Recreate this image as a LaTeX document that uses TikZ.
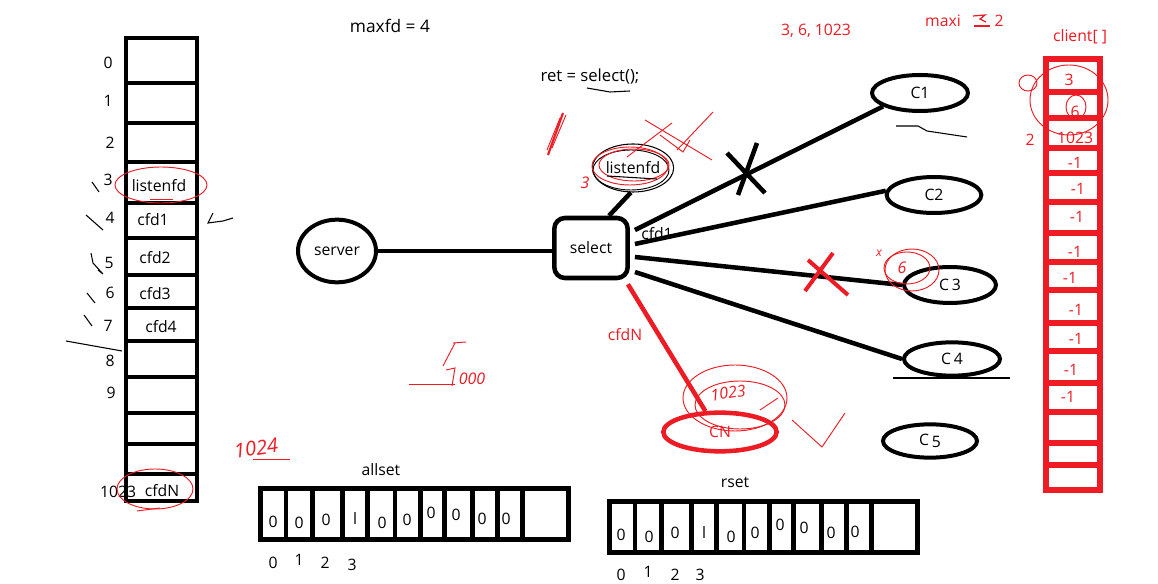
\documentclass[tikz,border=0pt]{standalone}
\usepackage{fontspec}
\setmainfont{Open Sans}
\usetikzlibrary{shapes.geometric,calc}
\definecolor{hred}{RGB}{237,28,36}
\begin{document}
\begin{tikzpicture}[x=0.75pt,y=-0.75pt,
  arr/.style={line width=3.7pt, draw=black},
  rarr/.style={line width=3.9pt, draw=hred},
  thk/.style={line width=3.4pt, draw=black},
  lbl/.style={font=\fontsize{11.8}{13}\selectfont, inner sep=0pt},
  rlbl/.style={lbl, text=hred},
  hlbl/.style={font=\itshape\fontsize{12}{13}\selectfont, text=hred, inner sep=0pt},
  ell/.style={ellipse, draw, line width=3pt, inner sep=0pt, font=\fontsize{11.8}{13}\selectfont},
  hand/.style={draw=hred, line width=0.7pt},
  tick/.style={draw=black, line width=0.8pt},
]
\useasboundingbox (0,0) rectangle (1158,584);
\fill[white] (0,0) rectangle (1158,584);

% ---------- left fd array ----------
\foreach \a/\b in {38/83,83/123,123/162,162/203,203/238,238/275,275/308,308/341,341/377,377/413,413/444,444/474,474/501}
  \draw[arr] (126,\a) rectangle (197,\b);
\foreach \x/\y/\t [count=\i] in {108/63/0,108/101/1,110/143/2,108/180/3,110/218/4,109/263/5,110/293/6,108/326/7,110/361/8,111/393/9}
  \node[lbl] (idx\i) at (\x,\y) {\t};
\node[lbl] (idxN) at (118,492) {1023};
\node[lbl] (Llisten) at (159,186) {listenfd};
\node[lbl] (Lc1) at (153,220) {cfd1};
\node[lbl] (Lc2) at (155,258) {cfd2};
\node[lbl] (Lc3) at (155,294) {cfd3};
\node[lbl] (Lc4) at (161,327) {cfd4};
\node[lbl] (LcN) at (162,491) {cfdN};
% hand ticks
\draw[tick] (92,182) -- (99,192);
\draw[tick] (86,215) -- (103,230);
\draw[tick] (91,253) -- (93,263) -- (102,273);
\draw[tick] (87,293) -- (95,303);
\draw[tick] (84,315) -- (92,326);
\draw[tick] (66,341) -- (122,351);
\draw[tick] (98,270) -- (103,274);
\draw[tick] (213,213) -- (208,223) -- (223,221) -- (233,218);
% red circles on left array
\draw[hand] (161,185) ellipse [x radius=46, y radius=18];
\draw[hand] (150,199) -- (173,199);
\draw[hand] (155,489) ellipse [x radius=38, y radius=20];
\draw[hand] (137,511) -- (160,508);

% ---------- top texts ----------
\node[lbl, font=\fontsize{13}{14}\selectfont] (maxfd) at (390,26) {maxfd = 4};
\node[lbl, font=\fontsize{12.5}{14}\selectfont] (ret) at (590,76) {ret = select();};
\draw[tick] (587,88) -- (610,92) -- (630,91);
\node[rlbl] (lst) at (816,31) {3, 6, 1023};
\node[rlbl] (maxi) at (943,21) {maxi};
\node[rlbl] (two) at (999,21) {2};
\draw[hand, line width=0.9pt] (973,16) -- (985,15) -- (980,19) -- (986,22);
\draw[hand, line width=0.9pt] (974,26) -- (990,26);
\node[rlbl] (clientlbl) at (1080,37) {client[ ]};

% ---------- server / select ----------
\node[ell, minimum width=58.5pt, minimum height=47pt] (server) at (337,251) {server};
\node[draw, thk, rounded corners=8pt, minimum width=55pt, minimum height=45pt, lbl] (select) at (591,248) {select};
\draw[thk] (server.east) -- (select.west |- server.east);

\node[ellipse, draw, line width=0.8pt, minimum width=61pt, minimum height=36pt, inner sep=0pt, lbl] (lf) at (633,168) {listenfd};
\draw[line width=0.7pt] (631,170) ellipse [x radius=38, y radius=20];
\draw[hand] (630,166) ellipse [x radius=38, y radius=19];
\draw[hand] (634,165) ellipse [x radius=35, y radius=16];
\draw[tick] (607,176) -- (657,179);
\draw[thk] ($(select.north)+(18,0)$) -- (lf.265);
\node[hlbl] (three) at (585,183) {3};
% red scribbles
\draw[hand] (645,120) -- (712,160);
\draw[hand] (672,123) -- (627,157);
\draw[hand] (713,112) -- (677,150);
\draw[hand] (660,135) -- (683,152) -- (690,140);
\draw[hand, line width=1.6pt] (563,113) -- (548,155);
\draw[hand] (560,118) -- (547,150);
\draw[hand] (566,115) -- (552,148);

% ---------- clients ----------
\node[ell, minimum width=72pt, minimum height=27pt] (C1) at (920,93) {C1};
\node[ell, minimum width=71pt, minimum height=27pt] (C2) at (934,195) {C2};
\node[ell, minimum width=69pt, minimum height=27pt] (C3) at (950,285) {C\,3};
\node[ell, minimum width=72pt, minimum height=25pt] (C4) at (952,359) {C\,4};
\node[ell, minimum width=70.5pt, minimum height=25pt] (C5) at (930,441) {C\raisebox{-2pt}{\,5}};
\node[ellipse, draw=hred, line width=3.4pt, minimum width=85pt, minimum height=29pt, inner sep=0pt, rlbl] (CN) at (720,432) {CN};

\draw[thk] ($(select.east)+(5,-18)$) -- (C1.200);
\draw[thk] ($(select.east)+(5,-4)$) -- (C2.175);
\draw[thk] ($(select.east)+(5,9)$) -- (C3.west);
\draw[thk] ($(select.east)+(5,24)$) -- (C4.west);
\draw[line width=3.4pt, draw=hred] ($(select.south east)+(-2,4)$) -- (CN.125);
\node[lbl] (cfd1) at (657,234) {cfd1};
\node[rlbl] (cfdN) at (625,335) {cfdN};

% crosses
\draw[thk] (727,153) -- (765,193);
\draw[thk] (757,143) -- (738,195);
\draw[line width=3pt, draw=hred] (808,260) -- (848,295);
\draw[line width=3pt, draw=hred] (833,253) -- (805,291);

% underlines near clients
\draw[tick] (896,126) -- (918,126) -- (927,131) -- (967,137);
\draw[tick] (893,378) -- (1010,378);

% red notes near C3 and CN
\draw[hand] (912,270) ellipse [x radius=27, y radius=21];
\draw[hand] (907,268) ellipse [x radius=23, y radius=16];
\node[hlbl] (six) at (902,268) {6};
\node[hlbl, font=\itshape\fontsize{9}{10}\selectfont] (xmark) at (879,253) {x};
\draw[hand] (735,398) ellipse [x radius=52, y radius=33];
\draw[hand] (740,405) ellipse [x radius=45, y radius=24];
\node[hlbl, rotate=8] (n1023) at (728,393) {1023};
\draw[hand] (792,420) -- (822,447) -- (845,413);
\draw[hand] (760,410) -- (778,398);

% ---------- other hand notes ----------
\node[hlbl, font=\itshape\fontsize{15}{16}\selectfont, rotate=8] (n1024) at (256,448) {1024};
\draw[hand] (253,459) -- (290,459);
\node[hlbl, font=\itshape\fontsize{12}{13}\selectfont] (n5000) at (472,379) {000};
\draw[hand] (453,343) -- (466,342);
\draw[hand] (455,343) -- (443,366);
\draw[hand] (409,384) -- (455,384);
\draw[hand] (446,370) -- (455,368) -- (452,386);

% ---------- allset ----------
\node[lbl] (allsetlbl) at (381,470) {allset};
\draw[arr] (260.5,488.5) rectangle (568.5,539.5);
\foreach \x in {286,312.5,342.5,367.5,395,420.5,444.5,472.5,497.5,522.5}
  \draw[arr] (\x,488.5) -- (\x,539.5);
\foreach \x/\y/\v [count=\i] in {273/522/0,299/523/0,326/520/0,355/519/l,382/523/0,407/520/0,431/513/0,456/515/0,482/519/0,506/519/0}
  \node[lbl] (a\i) at (\x,\y) {\v};
\foreach \x/\y/\v [count=\i] in {273/563/0,299/560/1,325/563/2,352/565/3}
  \node[lbl] (ai\i) at (\x,\y) {\v};

% ---------- rset ----------
\node[lbl] (rsetlbl) at (735,482) {rset};
\begin{scope}[shift={(349,13)}]
\draw[arr] (260.5,488.5) rectangle (568.5,539.5);
\foreach \x in {286,312.5,342.5,367.5,395,420.5,444.5,472.5,497.5,522.5}
  \draw[arr] (\x,488.5) -- (\x,539.5);
\end{scope}
\foreach \x/\y/\v [count=\i] in {621/535/0,649/537/0,675/533/0,704/533/l,731/537/0,755/533/0,780/525/0,804/528/0,831/533/0,855/532/0}
  \node[lbl] (r\i) at (\x,\y) {\v};
\foreach \x/\y/\v [count=\i] in {621/575/0,648/572/1,675/575/2,700/575/3}
  \node[lbl] (ri\i) at (\x,\y) {\v};

% ---------- client[] array ----------
\foreach \a/\b in {59/92,92/118,118/148,148/173,173/202,202/233,233/262,262/290,290/323,323/351,351/383,383/412,412/443,443/465,465/490}
  \draw[rarr] (1046,\a) rectangle (1100,\b);
\node[rlbl] (k1) at (1069,80) {3};
\node[rlbl] (k2) at (1075,112) {6};
\node[rlbl] (k3) at (1075,138) {1023};
\foreach \x/\y [count=\i] in {1075/163,1078/189,1077/217,1075/252,1070/278,1076/310,1076/339,1071/370,1068/397}
  \node[rlbl] (m\i) at (\x,\y) {-1};
\node[rlbl] (ktwo) at (1030,140) {2};
\draw[hand] (1069,100) ellipse [x radius=39, y radius=35];
\draw[hand] (1028,83) ellipse [x radius=9, y radius=8];
\draw[hand] (1076,107) ellipse [x radius=10, y radius=12];
\end{tikzpicture}
\end{document}
